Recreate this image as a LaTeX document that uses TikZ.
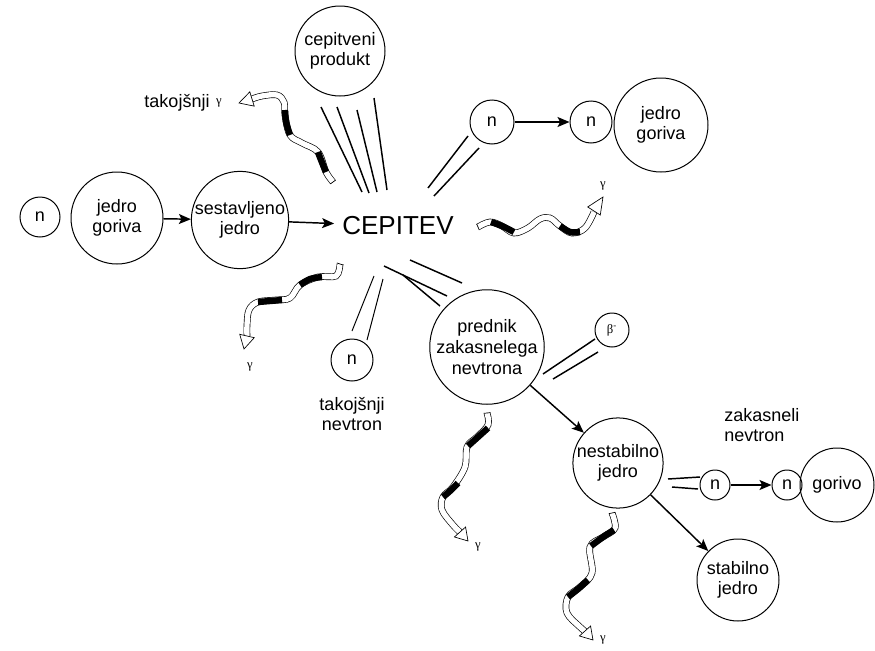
\documentclass[tikz,border=0pt]{standalone}
\usepackage{fontspec}
\setmainfont{Liberation Sans}
\newfontfamily\grk{Liberation Serif}
\usetikzlibrary{arrows.meta,calc}
\newcommand\ribhead[2]{\filldraw[fill=white,line width=0.5pt] ($(#1)!5.6pt!90:(#2)$) -- (#2) -- ($(#1)!5.6pt!-90:(#2)$) -- cycle;}
\newcommand\ribtail[2]{\draw[line width=0.5pt] ($(#1)!2.5pt!90:(#2)$) -- ($(#1)!2.5pt!-90:(#2)$);}
\tikzset{
  ball/.style={circle, draw, line width=0.75pt, inner sep=0pt, minimum size=#1*1.5pt, align=center, font=\fontsize{13.5}{15.5}\selectfont},
  arr/.style={-{Stealth[length=9pt,width=7.5pt,inset=2pt]}, line width=1.1pt},
  seg/.style={line width=1.1pt},
  ribbon/.style={line width=0.5pt, double=white, double distance=4pt, line cap=butt},
  dark/.style={line width=4.8pt, line cap=butt},
  lbl/.style={font=\fontsize{13.5}{15.5}\selectfont, align=center, inner sep=0pt},
  gam/.style={font=\grk\fontsize{9.5}{10}\selectfont, inner sep=0pt}
}
\begin{document}
\begin{tikzpicture}[x=0.75pt,y=-0.75pt]
\useasboundingbox (0,0) rectangle (875,650);
% nodes
\node[ball=20] (nL) at (40,217) {n};
\node[ball=46] (jg1) at (117,218) {jedro\\goriva};
\node[ball=47] (sj) at (240,220) {sestavljeno\\jedro};
\node[font=\fontsize{19.5}{22}\selectfont, inner sep=6pt] (cep) at (398,226) {CEPITEV};
\node[ball=45] (cp) at (340,51) {cepitveni\\produkt};
\node[ball=22] (n1) at (492,122) {n};
\node[ball=21] (n2) at (591,122) {n};
\node[ball=47] (jg2) at (661,125) {jedro\\goriva};
\node[ball=21] (nt) at (352,360) {n};
\node[ball=55] (pr) at (487,347) {prednik\\zakasnelega\\nevtrona};
\node[ball=17, font=\grk\fontsize{9.5}{10}\selectfont] (beta) at (612,330) {β\textsuperscript{-}};
\node[ball=41] (ns) at (618,463) {nestabilno\\jedro};
\node[ball=15] (n3) at (715,485) {n};
\node[ball=15] (n4) at (787,485) {n};
\node[ball=37] (gor) at (837,485) {gorivo};
\node[ball=41] (st) at (738,580) {stabilno\\jedro};
% labels
\node[lbl] (tkg) at (177,103) {takojšnji};
\node[gam] (g1) at (219,103) {γ};
\node[gam] (g2) at (603,186) {γ};
\node[gam] (g3) at (250,367) {γ};
\node[gam] (g4) at (478,547) {γ};
\node[gam] (g5) at (603,640) {γ};
\node[lbl] (tkn) at (352,414) {takojšnji\\nevtron};
\node[lbl, anchor=west, align=left] (zkn) at (724,425) {zakasneli\\nevtron};
% arrows
\draw[arr] (jg1) -- (sj);
\draw[arr] (sj) -- (cep);
\draw[arr] (n1) -- (n2);
\draw[arr] (pr) -- (ns);
\draw[arr] (ns) -- (st);
\draw[arr] (n3) -- (n4);
% plain lines
\draw[seg] (321,107) -- (362,192);
\draw[seg] (337,107) -- (369,193);
\draw[seg] (357,110) -- (377,192);
\draw[seg] (374,98) -- (387,190);
\draw[seg] (428,188) -- (468,136);
\draw[seg] (434,196) -- (479,148);
\draw[line width=0.75pt] (374,276) -- (352,331);
\draw[line width=0.75pt] (383,279) -- (367,340);
\draw[seg] (410,260) -- (462,283);
\draw[seg] (384,266) -- (447,296);
\draw[seg] (403,275) -- (440,306);
\draw[seg] (543,374) -- (595,339);
\draw[seg] (553,379) -- (598,352);
\draw[seg] (668,479) -- (700,477);
\draw[seg] (672,487) -- (698,489);
% ribbon 1 (takojsnji gamma)
\draw[ribbon] plot[smooth, tension=0.6] coordinates {(333,182) (326,172) (318,152) (302,143) (290,135) (285,115) (284,102) (277,95) (262,96) (252,99)};
\draw[dark] plot[smooth] coordinates {(326,172) (321,160) (318,152)};
\draw[dark] plot[smooth] coordinates {(290,135) (286,122) (285,110)};
\ribtail{333,182}{326,172}
\ribhead{252,99}{239,103}
% ribbon 2 (right)
\draw[ribbon] plot[smooth, tension=0.6] coordinates {(478,227) (490,222) (502,226) (514,233) (528,228) (540,219) (550,218) (560,226) (572,233) (585,228) (594,212)};
\draw[dark] plot[smooth] coordinates {(491,222) (502,226) (514,232)};
\draw[dark] plot[smooth] coordinates {(560,226) (570,232) (580,232)};
\ribtail{478,227}{490,222}
\ribhead{594,211}{603,197}
% ribbon 3 (lower left)
\draw[ribbon] plot[smooth, tension=0.6] coordinates {(340,264) (336,276) (318,277) (300,285) (290,298) (276,300) (258,302) (249,310) (247,325) (247,336)};
\draw[dark] plot[smooth] coordinates {(322,277) (310,279) (300,285)};
\draw[dark] plot[smooth] coordinates {(282,300) (270,301) (258,302)};
\ribtail{340,264}{336,276}
\ribhead{247,336}{244,349}
% ribbon 4 (below prednik)
\draw[ribbon] plot[smooth, tension=0.6] coordinates {(487,413) (488,425) (477,437) (467,447) (465,467) (453,487) (443,497) (442,510) (453,525) (461,533)};
\draw[dark] plot[smooth] coordinates {(488,428) (478,437) (468,446)};
\draw[dark] plot[smooth] coordinates {(458,483) (450,491) (443,497)};
\ribtail{487,413}{488,425}
\ribhead{460,532}{468,541}
% ribbon 5 (below nestabilno)
\draw[ribbon] plot[smooth, tension=0.6] coordinates {(612,513) (615,528) (603,537) (590,547) (592,573) (580,587) (568,597) (567,613) (580,627) (586,632)};
\draw[dark] plot[smooth] coordinates {(614,530) (603,537) (591,546)};
\draw[dark] plot[smooth] coordinates {(588,580) (578,589) (568,597)};
\ribtail{612,513}{615,528}
\ribhead{585,631}{593,640}
\end{tikzpicture}
\end{document}
